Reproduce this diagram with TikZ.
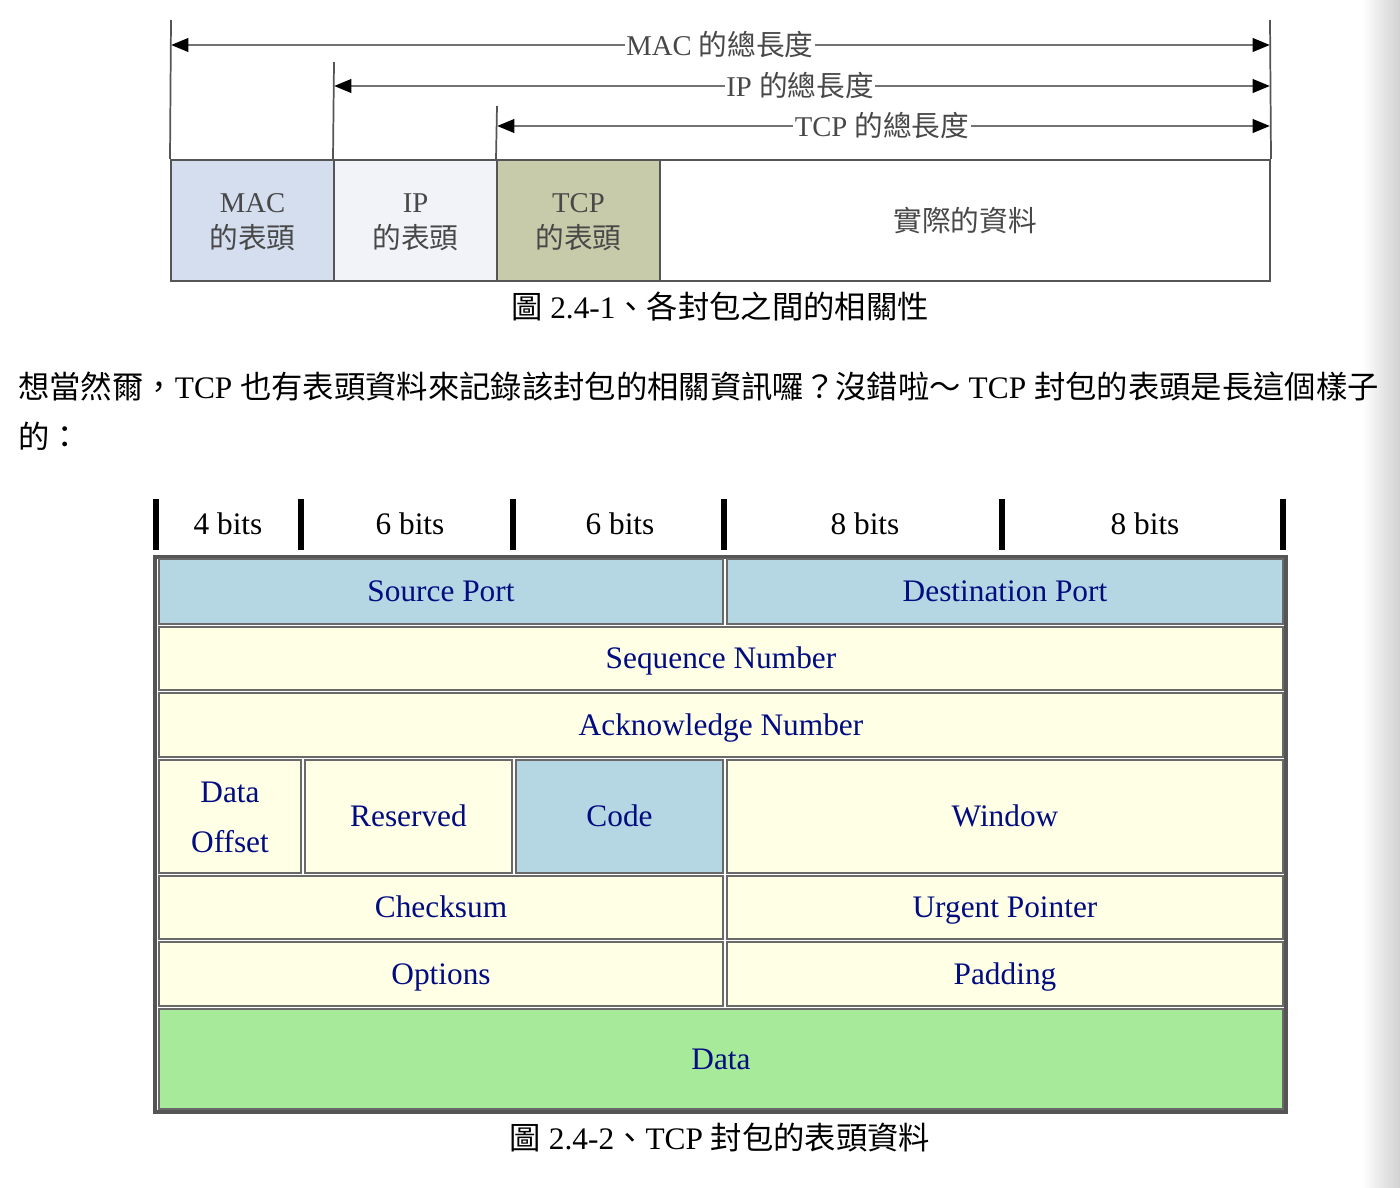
\documentclass[tikz,border=0pt]{standalone}
\usepackage{fontspec}
\setmainfont{Liberation Serif}
\newfontfamily\cjk{Noto Sans CJK TC}
\usetikzlibrary{arrows.meta,fit}
\definecolor{macfill}{RGB}{212,222,238}
\definecolor{ipfill}{RGB}{241,243,249}
\definecolor{tcpfill}{RGB}{200,203,170}
\definecolor{topgray}{RGB}{72,72,72}
\definecolor{boxline}{RGB}{85,85,85}
\definecolor{dimgray}{RGB}{115,115,115}
\definecolor{cellblue}{RGB}{181,215,227}
\definecolor{cellyellow}{RGB}{255,255,230}
\definecolor{cellgreen}{RGB}{166,234,154}
\definecolor{cellline}{RGB}{105,105,105}
\definecolor{navytext}{RGB}{0,12,128}
\begin{document}
\begin{tikzpicture}[x=0.75pt,y=-0.75pt,
  topbox/.style={draw=boxline, line width=1.5pt, inner sep=0pt},
  toptext/.style={inner sep=0pt, align=center, text=topgray, font=\fontsize{21.5}{27}\selectfont},
  vline/.style={draw=boxline, line width=1.3pt},
  dimarrow/.style={draw=dimgray, line width=2.2pt,
    arrows={Triangle[length=13pt,width=10pt,color=black]-Triangle[length=13pt,width=10pt,color=black]}},
  dimlabel/.style={fill=white, inner sep=1pt, text=topgray, font=\fontsize{21.5}{27}\selectfont},
  captext/.style={inner sep=0pt, text=black, font=\fontsize{23.5}{30}\selectfont},
  bitbar/.style={draw=black, line width=3.8pt},
  bitlabel/.style={inner sep=0pt, text=black, text height=16pt, text depth=0.8pt, font=\fontsize{23.5}{30}\selectfont},
  tableouter/.style={draw=boxline, line width=2.4pt, inner sep=0pt},
  cell/.style={draw=cellline, line width=1.3pt, inner sep=0pt},
  celltextm/.style={inner sep=0pt, align=center, text=navytext, font=\fontsize{23.5}{37.5}\selectfont},
  celltext/.style={celltextm, text height=16pt, text depth=0.8pt}]
\useasboundingbox (0,0) rectangle (1400,1188);
\shade[left color=white, right color=black!18, draw=none] (1362,0) rectangle (1400,1188);

% ---------- top diagram ----------
\node[topbox, fill=macfill, fit={(171,160)(334,281)}] (machdr) {};
\node[topbox, fill=ipfill, fit={(334,160)(497,281)}] (iphdr) {};
\node[topbox, fill=tcpfill, fit={(497,160)(660,281)}] (tcphdr) {};
\node[topbox, fill=white, fit={(660,160)(1270,281)}] (payload) {};
\node[toptext] (mact) at ([yshift=-1.5pt]machdr.center) {MAC\\{\cjk 的表頭}};
\node[toptext] (ipt) at ([yshift=-1.5pt]iphdr.center) {IP\\{\cjk 的表頭}};
\node[toptext] (tcpt) at ([yshift=-1.5pt]tcphdr.center) {TCP\\{\cjk 的表頭}};
\node[toptext] (payt) at (payload.center) {{\cjk 實際的資料}};

\coordinate (macL) at (171,45);  \coordinate (macR) at (1270,45);
\coordinate (ipL) at (334,86);   \coordinate (ipR) at (1270,86);
\coordinate (tcpL) at (497,126); \coordinate (tcpR) at (1270,126);
\coordinate (v0) at (171,20); \coordinate (v1) at (334,62);
\coordinate (v2) at (497,106); \coordinate (v3) at (1270,20);

\draw[vline] (v0) -- (machdr.north west);
\draw[vline] (v1) -- (iphdr.north west);
\draw[vline] (v2) -- (tcphdr.north west);
\draw[vline] (v3) -- (payload.north east);

\draw[dimarrow] (macL) -- (macR);
\draw[dimarrow] (ipL) -- (ipR);
\draw[dimarrow] (tcpL) -- (tcpR);
\node[dimlabel] (maclab) at (720,45) {MAC {\cjk 的總長度}};
\node[dimlabel] (iplab) at (800,86) {IP {\cjk 的總長度}};
\node[dimlabel] (tcplab) at (882,126) {TCP {\cjk 的總長度}};

\node[captext] (cap1) at (720,307) {{\cjk 圖} 2.4-1{\cjk 、各封包之間的相關性}};

% ---------- paragraph ----------
\node[captext, anchor=west] (para1) at (18,386)
  {{\cjk 想當然爾，}TCP {\cjk 也有表頭資料來記錄該封包的相關資訊囉？沒錯啦～} TCP {\cjk 封包的表頭是長這個樣子}};
\node[captext, anchor=west] (para2) at (18,436) {{\cjk 的：}};

% ---------- bit ruler ----------
\draw[bitbar] (156,499) -- (156,550);
\draw[bitbar] (301,499) -- (301,550);
\draw[bitbar] (513,499) -- (513,550);
\draw[bitbar] (724,499) -- (724,550);
\draw[bitbar] (1002,499) -- (1002,550);
\draw[bitbar] (1283,499) -- (1283,550);
\node[bitlabel] (b1) at (228,524) {4 bits};
\node[bitlabel] (b2) at (410,524) {6 bits};
\node[bitlabel] (b3) at (620,524) {6 bits};
\node[bitlabel] (b4) at (865,524) {8 bits};
\node[bitlabel] (b5) at (1145,524) {8 bits};

% ---------- TCP header table ----------
\node[tableouter, fit={(155,557)(1286,1112)}] (tbl) {};
\node[cell, fill=cellblue, fit={(159,559)(723,624)}] (srcport) {};
\node[cell, fill=cellblue, fit={(727,559)(1283,624)}] (dstport) {};
\node[cell, fill=cellyellow, fit={(159,627)(1283,690)}] (seqnum) {};
\node[cell, fill=cellyellow, fit={(159,693)(1283,757)}] (acknum) {};
\node[cell, fill=cellyellow, fit={(159,760)(301,873)}] (offset) {};
\node[cell, fill=cellyellow, fit={(305,760)(512,873)}] (reserved) {};
\node[cell, fill=cellblue, fit={(516,760)(723,873)}] (code) {};
\node[cell, fill=cellyellow, fit={(727,760)(1283,873)}] (window) {};
\node[cell, fill=cellyellow, fit={(159,876)(723,939)}] (checksum) {};
\node[cell, fill=cellyellow, fit={(727,876)(1283,939)}] (urgent) {};
\node[cell, fill=cellyellow, fit={(159,942)(723,1006)}] (options) {};
\node[cell, fill=cellyellow, fit={(727,942)(1283,1006)}] (padding) {};
\node[cell, fill=cellgreen, fit={(159,1009)(1283,1109)}] (data) {};

\node[celltext] (srcportt) at (srcport.center) {Source Port};
\node[celltext] (dstportt) at (dstport.center) {Destination Port};
\node[celltext] (seqnumt) at (seqnum.center) {Sequence Number};
\node[celltext] (acknumt) at (acknum.center) {Acknowledge Number};
\node[celltextm] (offsett) at ([yshift=-0.5pt]offset.center) {Data\\Offset};
\node[celltext] (reservedt) at (reserved.center) {Reserved};
\node[celltext] (codet) at (code.center) {Code};
\node[celltext] (windowt) at (window.center) {Window};
\node[celltext] (checksumt) at (checksum.center) {Checksum};
\node[celltext] (urgentt) at (urgent.center) {Urgent Pointer};
\node[celltext] (optionst) at (options.center) {Options};
\node[celltext] (paddingt) at (padding.center) {Padding};
\node[celltext] (datat) at (data.center) {Data};

\node[captext] (cap2) at (720,1138) {{\cjk 圖} 2.4-2{\cjk 、}TCP {\cjk 封包的表頭資料}};
\end{tikzpicture}
\end{document}
